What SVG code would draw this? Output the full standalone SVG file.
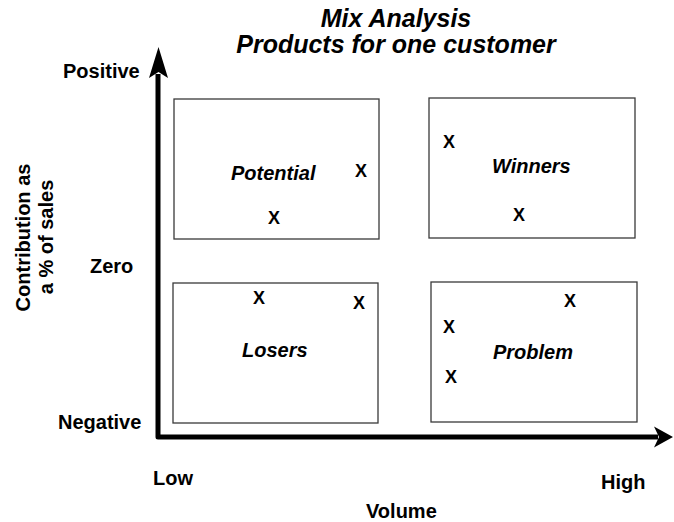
<svg xmlns="http://www.w3.org/2000/svg" width="674" height="522" viewBox="0 0 674 522">
<style>
text{font-family:"Liberation Sans",Arial,sans-serif;font-weight:bold;fill:#000}
.title{font-size:25px;font-style:italic;text-anchor:middle}
.lbl{font-size:20px}
.name{font-size:20px;font-style:italic}
.x{font-size:18px}
.box{fill:#fff;stroke:#3a3a3a;stroke-width:1.3}
.axis{fill:none;stroke:#000;stroke-width:5;stroke-linejoin:round}
</style>
<rect width="674" height="522" fill="#fff"/>
<g id="title">
<text class="title" x="396" y="26.5">Mix Analysis</text>
<text class="title" x="396" y="53">Products for one customer</text>
</g>
<g id="axes">
<polyline class="axis" points="158,74 158,437 658,437"/>
<polygon points="158.5,47 168,78 158.5,72 149,78" fill="#000"/>
<polygon points="673,437 654,447.5 659,437 654,426.5" fill="#000"/>
</g>
<g id="axis-labels">
<text class="lbl" x="63" y="78">Positive</text>
<text class="lbl" x="90" y="273">Zero</text>
<text class="lbl" x="58" y="429">Negative</text>
<text class="lbl" x="153" y="485">Low</text>
<text class="lbl" x="601" y="489">High</text>
<text class="lbl" x="366" y="518">Volume</text>
<text class="lbl" text-anchor="middle" transform="translate(30,237.5) rotate(-90)">Contribution as</text>
<text class="lbl" text-anchor="middle" transform="translate(53,237) rotate(-90)">a % of sales</text>
</g>
<g id="potential">
<rect class="box" x="174" y="99" width="205" height="140"/>
<text class="name" x="231" y="180">Potential</text>
<text class="x" x="355" y="177">X</text>
<text class="x" x="268" y="224">X</text>
</g>
<g id="winners">
<rect class="box" x="429" y="98" width="206" height="140"/>
<text class="name" x="492" y="173">Winners</text>
<text class="x" x="443" y="148">X</text>
<text class="x" x="513" y="221">X</text>
</g>
<g id="losers">
<rect class="box" x="173" y="283" width="205" height="140"/>
<text class="name" x="242" y="357">Losers</text>
<text class="x" x="253" y="304">X</text>
<text class="x" x="353" y="309">X</text>
</g>
<g id="problem">
<rect class="box" x="431" y="282" width="206" height="140"/>
<text class="name" x="493" y="359">Problem</text>
<text class="x" x="564" y="307">X</text>
<text class="x" x="443" y="333">X</text>
<text class="x" x="445" y="383">X</text>
</g>
</svg>
